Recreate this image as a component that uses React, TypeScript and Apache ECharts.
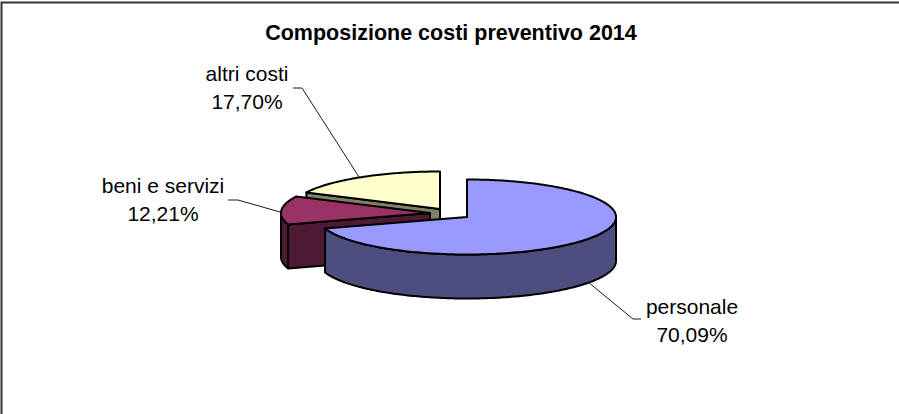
import React, { useEffect, useRef } from "react";
import * as echarts from "echarts";

const TITLE = "Composizione costi preventivo 2014";
const categories = ["personale", "beni e servizi", "altri costi"];
const shares = [70.09, 12.21, 17.7];
const shareLabels = ["70,09%", "12,21%", "17,70%"];

// Pie geometry in page pixels; every slice shares the same ellipse and thickness.
const CX = 467;
const CY = 217;
const RX = 149;
const RY = 37.5;
const DEPTH = 44;

// Per-slice presentation: exploded offset, face colours, label and leader line.
const sliceStyles = [
  {
    offset: [0, 0],
    top: "#9999FF",
    side: "#4D4D80",
    label: [692, 320],
    leader: [[588, 282], [633, 319], [641, 319]],
  },
  {
    offset: [-37, -4],
    top: "#993366",
    side: "#4D1A33",
    label: [163, 199],
    leader: [[228, 200], [238, 200], [280, 212]],
  },
  {
    offset: [-27, -8],
    top: "#FFFFCC",
    side: "#808066",
    label: [247, 87],
    leader: [[293, 88], [302, 88], [359, 177]],
  },
];

const FONT = '"Liberation Sans", Arial, sans-serif';
const EDGE = { stroke: "#000000", lineWidth: 2, lineJoin: "round" };

const rad = (deg: number) => (deg * Math.PI) / 180;

function rim(cx: number, cy: number, t: number) {
  return [cx + RX * Math.sin(rad(t)), cy - RY * Math.cos(rad(t))];
}

function arc(cx: number, cy: number, from: number, to: number) {
  const pts: number[][] = [];
  const steps = Math.max(2, Math.ceil(Math.abs(to - from)));
  for (let i = 0; i <= steps; i++) {
    pts.push(rim(cx, cy, from + ((to - from) * i) / steps));
  }
  return pts;
}

// Start angle (degrees clockwise from 12 o'clock) of each slice.
function sliceAngles(i: number) {
  const total = shares.reduce((a, b) => a + b, 0);
  const before = shares.slice(0, i).reduce((a, b) => a + b, 0);
  return [(before / total) * 360, ((before + shares[i]) / total) * 360];
}

function renderSlice(params: any, api: any) {
  const i = api.value(0);
  const style = sliceStyles[i];
  const [start, end] = sliceAngles(i);
  const cx = CX + style.offset[0];
  const cy = CY + style.offset[1];
  const children: any[] = [];
  const face = (points: number[][], fill: string) => ({
    type: "polygon",
    shape: { points },
    style: { fill, ...EDGE },
  });

  // Cut face running from the rim to the apex, when it looks towards the viewer.
  if (Math.sin(rad(start)) < -1e-6) {
    const p = rim(cx, cy, start);
    children.push(
      face(
        [p, [cx, cy], [cx, cy + DEPTH], [p[0], p[1] + DEPTH]],
        style.side
      )
    );
  }

  // Outer wall: only the front half of the ellipse can be seen.
  const wallFrom = Math.max(start, 90);
  const wallTo = Math.min(end, 270);
  if (wallTo > wallFrom) {
    const upper = arc(cx, cy, wallFrom, wallTo);
    const lower = upper.map(([x, y]) => [x, y + DEPTH]).reverse();
    children.push(face([...upper, ...lower], style.side));
  }

  // Top face.
  children.push(face([[cx, cy], ...arc(cx, cy, start, end)], style.top));

  // Leader line and two-line label.
  children.push({
    type: "polyline",
    shape: { points: style.leader },
    style: { fill: "none", stroke: "#1a1a1a", lineWidth: 1 },
  });
  children.push({
    type: "text",
    x: style.label[0],
    y: style.label[1],
    style: {
      text: `${categories[i]}\n${shareLabels[i]}`,
      font: `21px ${FONT}`,
      fill: "#000000",
      align: "center",
      verticalAlign: "middle",
      lineHeight: 28,
    },
  });

  return { type: "group", children };
}

export default function App() {
  const ref = useRef<HTMLDivElement>(null);

  useEffect(() => {
    const chart = echarts.init(ref.current, null, { renderer: "svg" });
    chart.setOption({
      animation: false,
      backgroundColor: "#FFFFFF",
      title: {
        text: TITLE,
        left: 446,
        top: 17,
        textAlign: "center",
        textStyle: {
          fontFamily: FONT,
          fontSize: 21.5,
          fontWeight: "bold",
          color: "#000000",
        },
      },
      graphic: [
        {
          type: "polyline",
          shape: { points: [[1.5, 414], [1.5, 2.5], [899, 2.5]] },
          style: { fill: "none", stroke: "#333333", lineWidth: 2 },
        },
      ],
      series: [
        {
          type: "custom",
          coordinateSystem: "none",
          silent: true,
          renderItem: renderSlice,
          // Painted back to front so the nearer slice covers the exploded ones.
          data: [2, 1, 0].map((i) => ({
            name: categories[i],
            value: [i, shares[i]],
          })),
        },
      ],
    });
    return () => chart.dispose();
  }, []);

  return (
    <div
      ref={ref}
      style={{ position: "absolute", left: 0, top: 0, width: 899, height: 414 }}
    />
  );
}
